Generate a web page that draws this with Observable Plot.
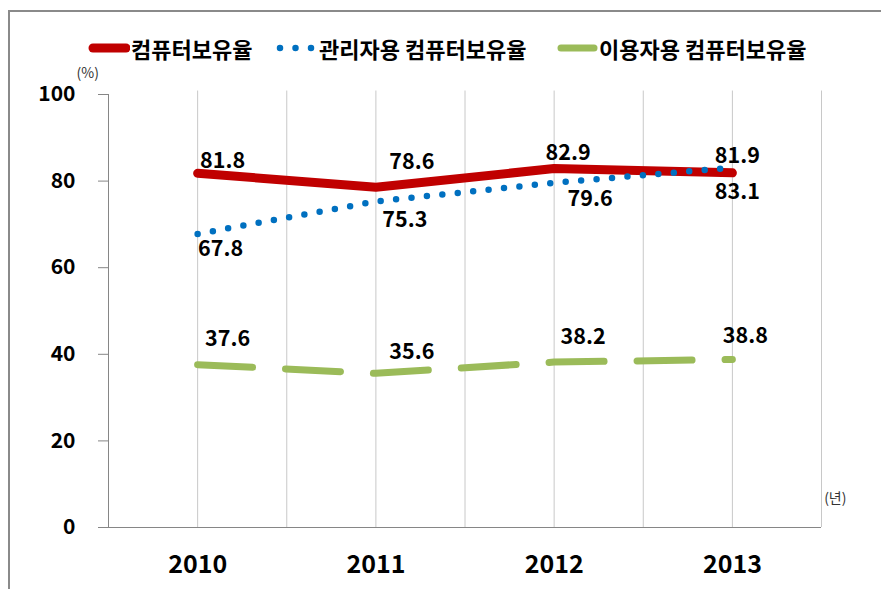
<!DOCTYPE html>
<html>
<head>
<meta charset="utf-8">
<script src="https://cdn.jsdelivr.net/npm/d3@7"></script>
<script src="https://cdn.jsdelivr.net/npm/@observablehq/plot@0.6"></script>
<style>
  html, body { margin: 0; padding: 0; background: #fff; }
  #wrap { position: relative; width: 881px; height: 589px; overflow: hidden; font-family: 'Noto Sans CJK KR', sans-serif; }
  #frame { position: absolute; left: 8px; top: 10px; width: 900px; height: 620px; border-top: 2px solid #8a8a8a; border-left: 2px solid #8a8a8a; box-sizing: border-box; }
  #chart { position: absolute; left: 0; top: 0; }
  .leg { position: absolute; top: 33px; display: flex; align-items: center; height: 30px; font-size: 22px; font-weight: bold; color: #000; white-space: nowrap; }
  .leg svg { display: block; margin-right: 1px; }
</style>
</head>
<body>
<div id="wrap">
  <div id="frame"></div>
  <div id="chart"></div>
  <div id="legend"></div>
</div>
<script>
// ---- data ----
const years = [2010, 2011, 2012, 2013];
const seriesNames = ["컴퓨터보유율", "관리자용 컴퓨터보유율", "이용자용 컴퓨터보유율"];
const totalRate = [81.8, 78.6, 82.9, 81.9];
const adminRate = [67.8, 75.3, 79.6, 83.1];
const userRate = [37.6, 35.6, 38.2, 38.8];
const yTicks = [0, 20, 40, 60, 80, 100];
const yUnit = "(%)";
const xUnit = "(년)";

// ---- styles (kept apart from the data) ----
const colors = ["#C00000", "#0070C0", "#9BBB59"];
const lineStyles = [
  {strokeWidth: 9, strokeDasharray: null},
  {strokeWidth: 6.5, strokeDasharray: "0 15.5"},
  {strokeWidth: 7, strokeDasharray: "55 33"}
];
// label nudges in pixels [dx, dy] per series, per year
const labelNudges = [
  [[25, -12], [36, -25], [14, -15], [5, -17]],
  [[23, 15], [29, 19], [36, 16], [5, 24]],
  [[30, -26], [36, -21], [29, -25], [13, -23]]
];

const seriesValues = [totalRate, adminRate, userRate];
const rows = seriesValues.map((vals, s) => years.map((yr, i) => ({series: seriesNames[s], year: yr, value: vals[i]})));

const font = "'Noto Sans CJK KR', 'Noto Sans', sans-serif";
const gridX = d3.range(years[0] - 0.5, years[years.length - 1] + 0.51, 0.5);

const marks = [
  Plot.ruleX(gridX.slice(1), {stroke: "#c8c8c8", strokeWidth: 1, y1: 0, y2: 100.8}),
  Plot.ruleY([0], {stroke: "#868686", strokeWidth: 1}),
  Plot.ruleX([gridX[0]], {stroke: "#868686", strokeWidth: 1, y1: 0, y2: 100}),
  Plot.axisY({ticks: yTicks, tickSize: 10, tickPadding: 23, stroke: "#868686", fill: "#000", fontSize: 21, fontWeight: "bold", label: null}),
  Plot.axisX({ticks: years, tickFormat: d => String(d), tickSize: 0, tickPadding: 28, fill: "#000", fontSize: 25, fontWeight: "bold", label: null}),
  Plot.text([yUnit], {frameAnchor: "top-left", dx: -32, dy: -26, fontSize: 14, fill: "#333"}),
  Plot.text([xUnit], {frameAnchor: "bottom-right", dx: 25, dy: -25, fontSize: 14, fill: "#333"})
];

rows.forEach((data, s) => {
  marks.push(Plot.line(data, {
    x: "year", y: "value", stroke: colors[s], strokeWidth: lineStyles[s].strokeWidth,
    strokeDasharray: lineStyles[s].strokeDasharray, strokeLinecap: "round", strokeLinejoin: "round",
    curve: "linear"
  }));
});
rows.forEach((data, s) => {
  data.forEach((d, i) => {
    marks.push(Plot.text([d], {
      x: "year", y: "value", text: d => d.value.toFixed(1),
      dx: labelNudges[s][i][0], dy: labelNudges[s][i][1],
      fontSize: 21.5, fontWeight: "bold", fill: "#000"
    }));
  });
});

const chart = Plot.plot({
  width: 881, height: 589,
  marginTop: 94, marginBottom: 62, marginLeft: 108, marginRight: 60,
  style: {fontFamily: font, background: "transparent"},
  x: {type: "linear", domain: [gridX[0], gridX[gridX.length - 1]], axis: null},
  y: {domain: [0, 100], axis: null},
  marks
});
document.getElementById("chart").appendChild(chart);

// ---- legend (HTML, positioned over the top of the frame) ----
const legendLefts = [88, 276, 556];
const legend = document.getElementById("legend");
seriesNames.forEach((name, s) => {
  const item = document.createElement("div");
  item.className = "leg";
  item.style.left = legendLefts[s] + "px";
  const sw = d3.create("svg").attr("width", 42).attr("height", 14);
  sw.append("line").attr("x1", s === 1 ? 4 : 5).attr("x2", s === 1 ? 36 : 38).attr("y1", 7).attr("y2", 7)
    .attr("stroke", colors[s]).attr("stroke-width", lineStyles[s].strokeWidth)
    .attr("stroke-linecap", "round")
    .attr("stroke-dasharray", s === 1 ? "0 15.5" : null);
  item.appendChild(sw.node());
  const t = document.createElement("span");
  t.textContent = name;
  item.appendChild(t);
  legend.appendChild(item);
});
</script>
</body>
</html>
